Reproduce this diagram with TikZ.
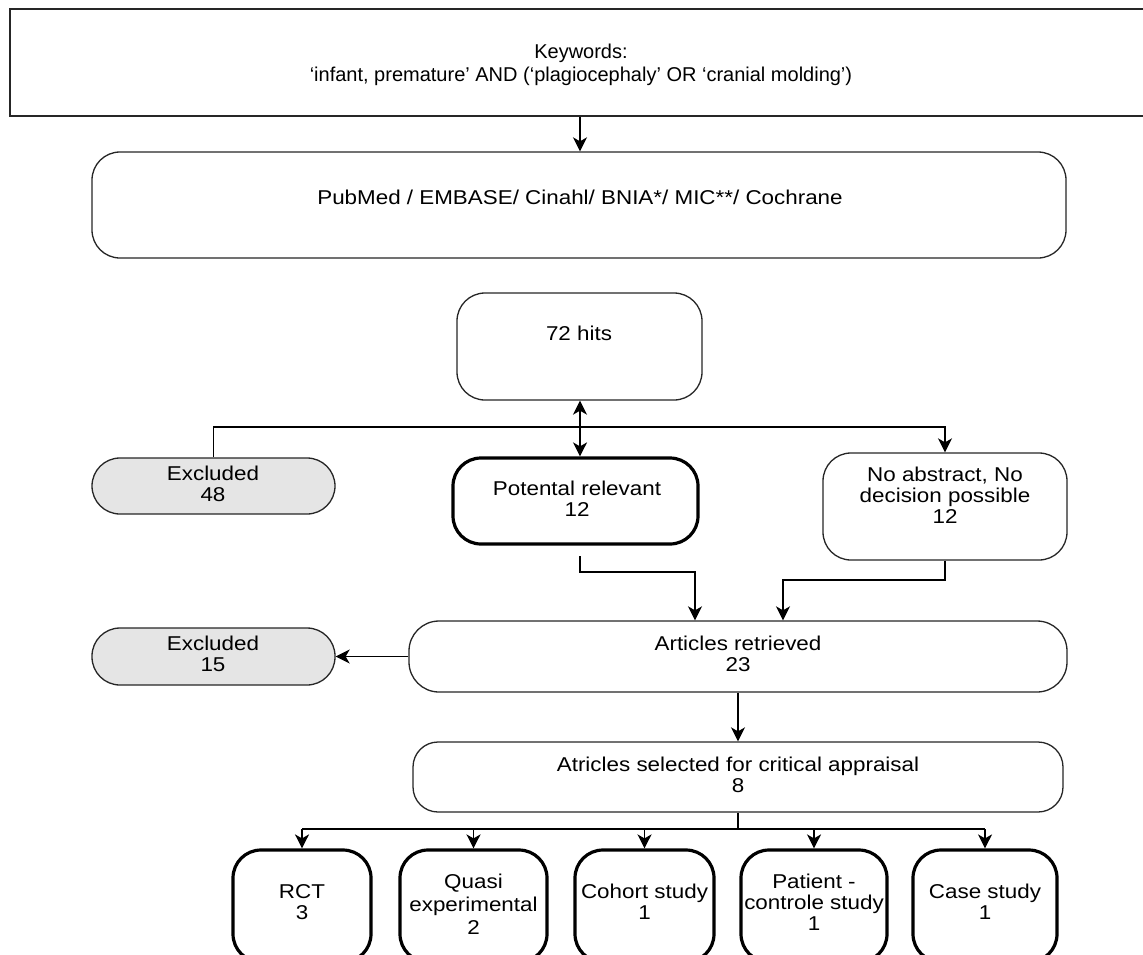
\documentclass[tikz,border=0pt]{standalone}
\usepackage{fontspec}
\setmainfont{Liberation Sans}[FakeStretch=1.12]
\newfontfamily\kwfont{Liberation Sans}
\usetikzlibrary{arrows.meta}
\begin{document}
\begin{tikzpicture}[x=1pt,y=-1pt,
  box/.style={draw=black!85, line width=1.3pt, rounded corners=28pt, fill=white, inner sep=0pt},
  thickbox/.style={box, draw=black, line width=3.2pt},
  greybox/.style={box, fill=black!10},
  txt/.style={align=center, inner sep=0pt, font=\fontsize{20}{21}\selectfont},
  conn/.style={line width=1.8pt},
  arr/.style={conn, -{Stealth[length=14pt,width=14pt,inset=4pt]}},
]
\useasboundingbox (0,0) rectangle (1143,954);
\clip (0,0) rectangle (1143,954);

% boxes
\node[draw=black!85, line width=1.3pt, inner sep=0pt, minimum width=1140pt, minimum height=107pt] (kw) at (580,62.5) {};
\node[box, minimum width=974pt, minimum height=106pt] (pub) at (579,205) {};
\node[box, minimum width=245pt, minimum height=107pt] (hits) at (579.5,346.5) {};
\node[greybox, minimum width=243pt, minimum height=56pt] (ex48) at (213.5,486) {};
\node[thickbox, minimum width=245pt, minimum height=86pt] (pot) at (575.5,501) {};
\node[box, minimum width=244pt, minimum height=107pt] (noab) at (945,506.5) {};
\node[box, rounded corners=30pt, minimum width=658pt, minimum height=71pt] (art) at (738,656.5) {};
\node[greybox, minimum width=243pt, minimum height=57pt] (ex15) at (213.5,656.5) {};
\node[box, rounded corners=25pt, minimum width=650pt, minimum height=70pt] (sel) at (738,777) {};
\node[thickbox, minimum width=138pt, minimum height=112pt] (rct) at (302,906) {};
\node[thickbox, minimum width=147pt, minimum height=112pt] (quasi) at (473.5,906) {};
\node[thickbox, minimum width=139pt, minimum height=112pt] (cohort) at (644.5,906) {};
\node[thickbox, minimum width=146pt, minimum height=112pt] (pat) at (814,906) {};
\node[thickbox, minimum width=144pt, minimum height=112pt] (case) at (985,906) {};

% texts
\node[txt, font=\kwfont\fontsize{20}{23}\selectfont] (kwT) at (581,64.5) {Keywords:\\‘infant, premature’ AND (‘plagiocephaly’ OR ‘cranial molding’)};
\node[txt] (pubT) at (580,197) {PubMed / EMBASE/ Cinahl/ BNIA*/ MIC**/ Cochrane};
\node[txt] (hitsT) at (579,333) {72 hits};
\node[txt] (ex48T) at (213,484) {Excluded\\48};
\node[txt] (potT) at (577,499) {Potental relevant\\12};
\node[txt] (noabT) at (945,495.5) {No abstract, No\\decision possible\\12};
\node[txt] (artT) at (738,654) {Articles retrieved\\23};
\node[txt] (ex15T) at (213,653.5) {Excluded\\15};
\node[txt] (selT) at (738,775) {Atricles selected for critical appraisal\\8};
\node[txt] (rctT) at (302,902) {RCT\\3};
\node[txt, font=\fontsize{20}{23}\selectfont] (quasiT) at (473.5,904) {Quasi\\experimental\\2};
\node[txt] (cohortT) at (644.5,902) {Cohort study\\1};
\node[txt] (patT) at (814,902.5) {Patient -\\controle study\\1};
\node[txt] (caseT) at (985,902) {Case study\\1};

% connectors
\draw[arr] (kw.south) -- (kw.south |- pub.north);
\coordinate (j) at (580,427);
\draw[arr] (ex48.north) |- (j -| noab.north) -- (noab.north);
\draw[arr] (j) -- (j |- hits.south);
\draw[arr] (j) -- (j |- pot.north);
\coordinate (p1) at (580,556);
\coordinate (p2) at (695,572);
\draw[arr] (p1) |- (p2) -- (p2 |- art.north);
\coordinate (q2) at (783,580);
\draw[arr] (noab.south) |- (q2) -- (q2 |- art.north);
\draw[arr] (art.west) -- (ex15.east);
\draw[arr] (art.south) -- (sel.north);
\coordinate (b) at (738,829);
\draw[conn] (sel.south) -- (b);
\draw[conn] (rct.north |- b) -- (case.north |- b);
\foreach \n in {rct,quasi,cohort,pat,case}
  \draw[arr] (\n.north |- b) -- (\n.north);
\end{tikzpicture}
\end{document}
